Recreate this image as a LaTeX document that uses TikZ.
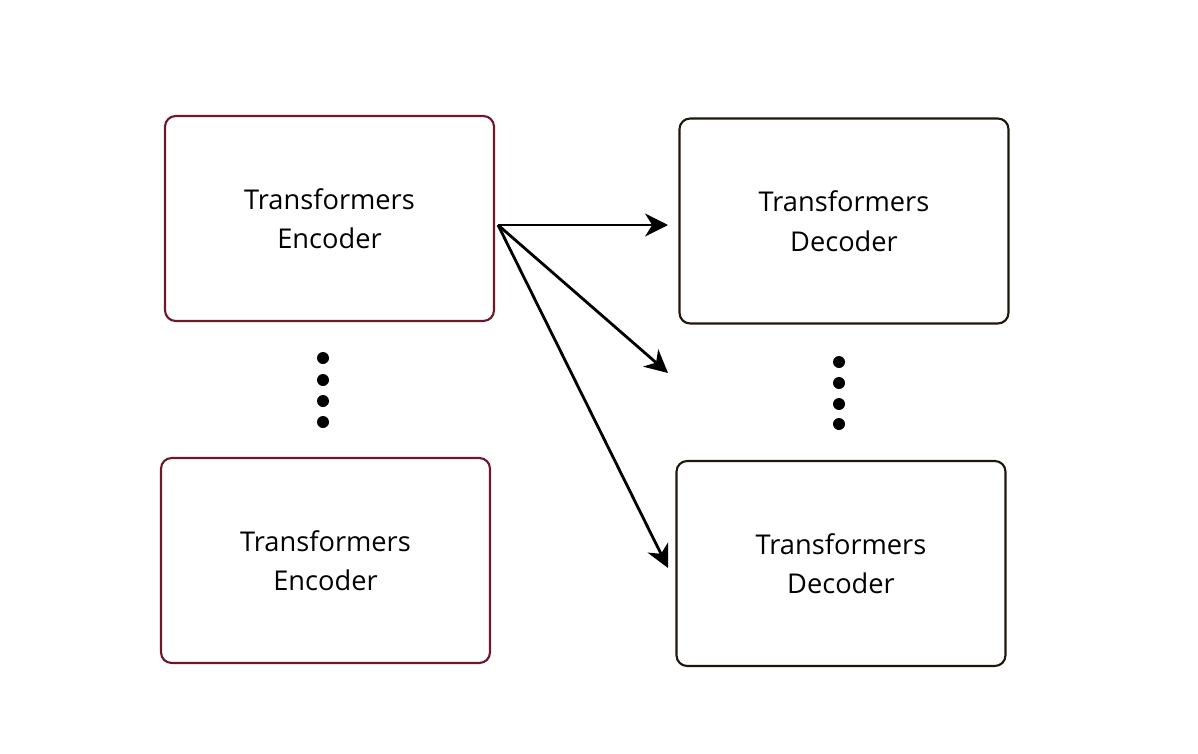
\documentclass[tikz,border=0pt]{standalone}
\usepackage{fontspec}
\setmainfont{Open Sans}
\usepackage{tikz}
\usetikzlibrary{arrows.meta,calc,positioning}

\definecolor{encred}{RGB}{112,22,42}
\definecolor{decdark}{RGB}{30,24,10}

\tikzset{
  block/.style={draw,line width=1.2pt,rounded corners=6pt,minimum width=6.58cm,
    minimum height=4.1cm,align=center,font=\fontsize{15.5}{22.5}\selectfont},
  encblock/.style={block,draw=encred},
  decblock/.style={block,draw=decdark},
  link/.style={-{Stealth[length=13pt,width=13pt,inset=4pt]},line width=1.6pt}
}

\begin{document}
\begin{tikzpicture}[x=0.02cm,y=-0.02cm]
  \useasboundingbox (0,0) rectangle (1198,754);
  % encoders
  \node[encblock] (enc1) at (329.5,218.5) {Transformers\\Encoder};
  \node[encblock] (enc2) at (325.5,560.5) {Transformers\\Encoder};
  % decoders
  \node[decblock] (dec1) at (844,221) {Transformers\\Decoder};
  \node[decblock] (dec2) at (841,563.5) {Transformers\\Decoder};
  % dots
  \foreach \y in {358,380,401,422} \fill (323,\y) circle (6);
  \foreach \y in {362,383,404,424} \fill (839,\y) circle (6);
  % arrows
  \coordinate (src) at (498,225);
  \coordinate (toA) at (668,225);
  \coordinate (toB) at (668,373);
  \coordinate (toC) at (668,568);
  \draw[link] (src) -- (toA);
  \draw[link] (src) -- (toB);
  \draw[link] (src) -- (toC);
\end{tikzpicture}
\end{document}
